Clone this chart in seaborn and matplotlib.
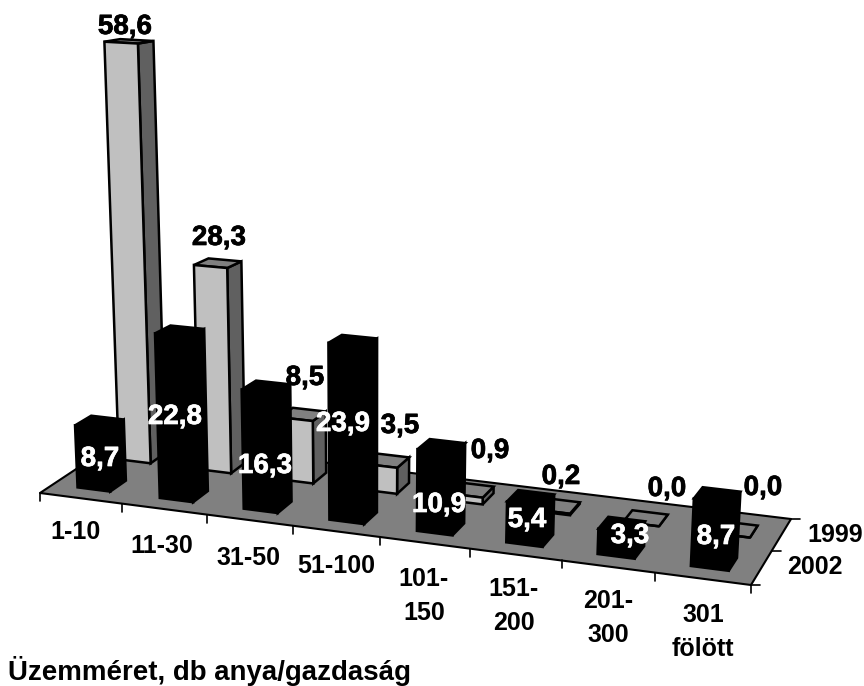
import numpy as np
import pandas as pd
import seaborn as sns
import matplotlib
matplotlib.use("Agg")
import matplotlib.pyplot as plt
import matplotlib.patheffects as pe
from matplotlib.transforms import Transform
from matplotlib.patches import Polygon

categories = ["1-10", "11-30", "31-50", "51-100", "101-\n150", "151-\n200", "201-\n300", "301\nfölött"]
values_1999 = [58.6, 28.3, 8.5, 3.5, 0.9, 0.2, 0.0, 0.0]
values_2002 = [8.7, 22.8, 16.3, 23.9, 10.9, 5.4, 3.3, 8.7]
series_names = ["1999", "2002"]
axis_title = "Üzemméret, db anya/gazdaság"

# label placement in figure pixels
pos_1999 = [(125, 27), (219, 238), (305, 378), (400, 426), (490, 451), (561, 477), (667, 489), (763, 488)]
pos_2002 = [(100, 459), (175, 417), (265, 466), (343, 424), (439, 505), (527, 520), (630, 536), (716, 537)]
pos_cats = [(76, 532), (162, 546), (248, 558), (336, 566), (424, 596), (514, 606), (608, 618), (703, 632)]

FLOOR = np.array([(40, 493), (751, 585), (791, 519), (123, 438)], float)

def homography(quad):
    src = [(0, 0), (1, 0), (1, 1), (0, 1)]
    A, b = [], []
    for (s, t), (x, y) in zip(src, quad):
        A.append([s, t, 1, 0, 0, 0, -s * x, -t * x]); b.append(x)
        A.append([0, 0, 0, s, t, 1, -s * y, -t * y]); b.append(y)
    return np.append(np.linalg.solve(np.array(A), np.array(b)), 1).reshape(3, 3)

H = homography(FLOOR)

def project(u, v, h):
    u, v, h = np.asarray(u, float), np.asarray(v, float), np.asarray(h, float)
    den = H[2, 0] * u / 8 + H[2, 1] * v / 2 + H[2, 2]
    bx = (H[0, 0] * u / 8 + H[0, 1] * v / 2 + H[0, 2]) / den
    by = (H[1, 0] * u / 8 + H[1, 1] * v / 2 + H[1, 2]) / den
    px = (7.1 + 0.09 * u) * h
    return bx + (bx - 370) / 7250 * px, by - px

class Front(Transform):
    input_dims = output_dims = 2
    is_separable = False
    has_inverse = False
    def __init__(self, v):
        super().__init__()
        self.v = v
    def transform_non_affine(self, values):
        values = np.asarray(values, float)
        return np.column_stack(project(values[:, 0], self.v, values[:, 1]))

sns.set_theme(style="white")
plt.rcParams["font.family"] = ["Liberation Sans", "DejaVu Sans"]
plt.rcParams["font.weight"] = "bold"

fig = plt.figure(figsize=(8.64, 6.86), dpi=100, facecolor="white")
ax = fig.add_axes([0, 0, 1, 1])

BAR_W = 0.40
LW = 1.8

def back_point(u, v0, v1, h):
    """Rear point at height h; depth flattens as the bar rises towards eye level."""
    fx, fy = project(u, v0, h)
    bx, by = project(u, v1, h)
    _, base = project(u, v0, 0)
    f = max(0.15, 1 - (base - fy) / 560)
    return bx, fy + (by - fy) * f

def draw_series(values, v0, v1, front, side, top, z):
    df = pd.DataFrame({"u": np.arange(len(values)) + 0.5, "value": values})
    n0 = len(ax.patches)
    sns.barplot(data=df, x="u", y="value", native_scale=True, width=BAR_W, color=front,
                saturation=1, edgecolor="black", linewidth=LW, errorbar=None,
                orient="x", ax=ax, zorder=z + 0.2)
    tr = Front(v0) + ax.transData
    for p in ax.patches[n0:]:
        p.set_transform(tr)
        p.set_clip_on(False)
    for i, val in enumerate(values):
        a, b = i + 0.5 - BAR_W / 2, i + 0.5 + BAR_W / 2
        s = [project(b, v0, 0), back_point(b, v0, v1, 0), back_point(b, v0, v1, val), project(b, v0, val)]
        t = [project(a, v0, val), project(b, v0, val), back_point(b, v0, v1, val), back_point(a, v0, v1, val)]
        ax.add_patch(Polygon(np.array(s, float), fc=side, ec="black", lw=LW, zorder=z))
        ax.add_patch(Polygon(np.array(t, float), fc=top, ec="black", lw=LW, zorder=z + 0.1))

draw_series(values_1999, 1.3, 1.68, "#C0C0C0", "#606060", "#808080", 2)
draw_series(values_2002, 0.3, 0.68, "#000000", "#000000", "#000000", 3)

ax.add_patch(Polygon(FLOOR, fc="#808080", ec="none", zorder=1))
ax.plot(*project([8, 0, 0, 8, 8], [0, 0, 2, 2, 0], [0] * 5), color="black", lw=1.5, zorder=1.1)

for u in range(9):
    x, y = project(u, 0, 0)
    ax.plot([x, x], [y, y + 8], color="black", lw=1.2, zorder=1.1)
for v in range(3):
    x, y = project(8, v, 0)
    ax.plot([x, x + 9], [y, y], color="black", lw=1.2, zorder=1.1)

def heavy(color):
    return [pe.withStroke(linewidth=0.5, foreground=color)]

for (x, y), val in zip(pos_1999, values_1999):
    ax.text(x, y, f"{val:.1f}".replace(".", ","), color="black", fontsize=20, fontweight="bold",
            ha="center", va="center", zorder=5, path_effects=heavy("black"))
for (x, y), val in zip(pos_2002, values_2002):
    ax.text(x, y, f"{val:.1f}".replace(".", ","), color="white", fontsize=20, fontweight="bold",
            ha="center", va="center", zorder=5, path_effects=heavy("white"))
for (x, y), c in zip(pos_cats, categories):
    ax.text(x, y, c, color="black", fontsize=18, fontweight="bold", ha="center", va="center",
            linespacing=1.5, zorder=5)
ax.text(835, 535, series_names[0], color="black", fontsize=18, fontweight="bold", ha="center", va="center")
ax.text(815, 567, series_names[1], color="black", fontsize=18, fontweight="bold", ha="center", va="center")
ax.text(8, 671, axis_title, color="black", fontsize=19.9, fontweight="bold", ha="left", va="center")

ax.set_xlim(0, 864)
ax.set_ylim(686, 0)
ax.axis("off")
fig.savefig("out.png", dpi=100, facecolor="white")
